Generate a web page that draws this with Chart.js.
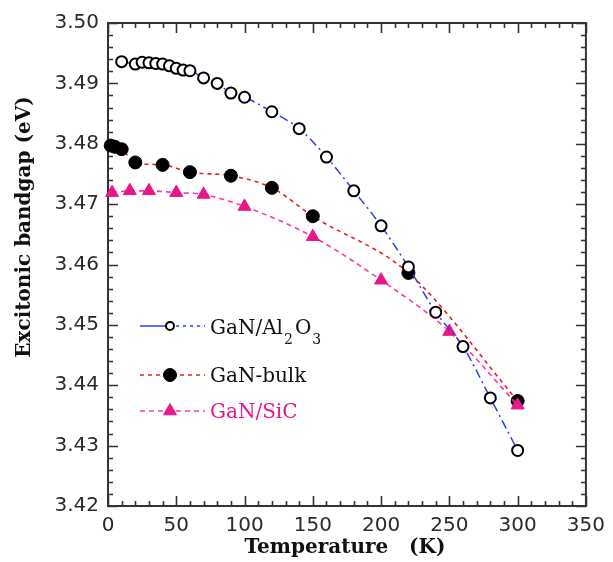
<!DOCTYPE html>
<html>
<head>
<meta charset="utf-8">
<script src="https://cdn.jsdelivr.net/npm/chart.js@4/dist/chart.umd.min.js"></script>
<style>
  html, body { margin: 0; padding: 0; background: #fff; }
  #wrap { width: 613px; height: 562px; }
</style>
</head>
<body>
<div id="wrap"><canvas id="c" width="613" height="562"></canvas></div>
<script>
// Excitonic band gap of GaN vs. temperature for three kinds of sample
const tempSapphire = [10, 20, 25, 30, 35, 40, 45, 50, 55, 60, 70, 80, 90, 100, 120, 140, 160, 180, 200, 220, 240, 260, 280, 300];
const gapSapphire  = [3.4936, 3.4932, 3.4935, 3.4934, 3.4933, 3.4932, 3.4929, 3.4925, 3.4922, 3.4921, 3.4909, 3.4900, 3.4884, 3.4877, 3.4853, 3.4825, 3.4778, 3.4722, 3.4664, 3.4596, 3.4521, 3.4464, 3.4379, 3.4292];

const tempBulk = [2, 5, 10, 20, 40, 60, 90, 120, 150, 220, 300];
const gapBulk  = [3.4797, 3.4795, 3.4791, 3.4769, 3.4765, 3.4753, 3.4747, 3.4727, 3.4680, 3.4586, 3.4374];

const tempSiC = [3, 16, 30, 50, 70, 100, 150, 200, 250, 300];
const gapSiC  = [3.4719, 3.4722, 3.4722, 3.4719, 3.4716, 3.4696, 3.4646, 3.4574, 3.4489, 3.4367];

const xTickValues = [0, 50, 100, 150, 200, 250, 300, 350];
const yTickValues = [3.42, 3.43, 3.44, 3.45, 3.46, 3.47, 3.48, 3.49, 3.50];

const xTitle = 'Temperature   (K)';
const yTitle = 'Excitonic bandgap (eV)';

const BLUE = '#2a3cf0';
const RED = '#f01a1a';
const PINK = '#ff3aa8';
const MAGENTA = '#e8168a';
const AXIS = '#333333';

const toPoints = (xs, ys) => xs.map((x, i) => ({ x: x, y: ys[i] }));

// Frame with inward major/minor ticks on all four sides
const framePlugin = {
  id: 'frame',
  beforeDatasetsDraw(chart) {
    const { ctx, chartArea: a, scales } = chart;
    const xs = scales.x, ys = scales.y;
    ctx.save();
    ctx.strokeStyle = AXIS;
    ctx.lineWidth = 2;
    ctx.strokeRect(a.left, a.top, a.right - a.left, a.bottom - a.top);
    ctx.lineWidth = 1.6;
    ctx.beginPath();
    for (let v = 0; v <= 350; v += 10) {
      const px = Math.round(xs.getPixelForValue(v)) + 0.5;
      const len = (v % 50 === 0) ? 10 : 5;
      ctx.moveTo(px, a.bottom); ctx.lineTo(px, a.bottom - len);
      ctx.moveTo(px, a.top); ctx.lineTo(px, a.top + len);
    }
    for (let k = 0; k <= 40; k++) {
      const v = 3.42 + k * 0.002;
      const py = Math.round(ys.getPixelForValue(v)) + 0.5;
      const len = (k % 5 === 0) ? 10 : 5;
      ctx.moveTo(a.left, py); ctx.lineTo(a.left + len, py);
      ctx.moveTo(a.right, py); ctx.lineTo(a.right - len, py);
    }
    ctx.stroke();
    ctx.restore();
  }
};

// Axis titles and the in-plot legend
const labelPlugin = {
  id: 'labels',
  afterDraw(chart) {
    const { ctx, chartArea: a } = chart;
    ctx.save();
    ctx.fillStyle = '#111';
    ctx.font = 'bold 20px "DejaVu Serif"';
    ctx.textAlign = 'center';
    ctx.textBaseline = 'alphabetic';
    ctx.fillText(xTitle, (a.left + a.right) / 2 - 2, 553);
    ctx.save();
    ctx.translate(25, 227);
    ctx.rotate(-Math.PI / 2);
    ctx.textBaseline = 'middle';
    ctx.fillText(yTitle, 0, 0);
    ctx.restore();

    // legend
    const x0 = 140, xm = 170, x1 = 205, tx = 210;
    const rows = [
      { y: 326, ds: 0 },
      { y: 375, ds: 1 },
      { y: 411, ds: 2 }
    ];
    ctx.textAlign = 'left';
    ctx.textBaseline = 'alphabetic';
    rows.forEach(r => {
      const d = chart.data.datasets[r.ds];
      ctx.save();
      ctx.strokeStyle = d.borderColor;
      ctx.lineWidth = d.borderWidth;
      if (r.ds === 0) {
        ctx.setLineDash([]);
        ctx.beginPath(); ctx.moveTo(x0, r.y); ctx.lineTo(xm - 4, r.y); ctx.stroke();
        ctx.setLineDash([3, 4]);
        ctx.beginPath(); ctx.moveTo(xm + 6, r.y); ctx.lineTo(x1, r.y); ctx.stroke();
      } else {
        ctx.setLineDash(d.borderDash);
        ctx.beginPath(); ctx.moveTo(x0, r.y); ctx.lineTo(x1, r.y); ctx.stroke();
      }
      ctx.restore();
      const legendRadius = r.ds === 0 ? 4 : d.pointRadius;
      ctx.fillStyle = d.pointBackgroundColor;
      ctx.strokeStyle = d.pointBorderColor;
      ctx.lineWidth = d.pointBorderWidth;
      ctx.beginPath();
      if (d.pointStyle === 'circle') {
        ctx.arc(xm, r.y, legendRadius, 0, Math.PI * 2);
      } else {
        const rr = legendRadius;
        ctx.moveTo(xm, r.y - rr);
        ctx.lineTo(xm + rr * 0.866, r.y + rr * 0.5);
        ctx.lineTo(xm - rr * 0.866, r.y + rr * 0.5);
        ctx.closePath();
      }
      ctx.fill(); ctx.stroke();
    });

    const base1 = rows[0].y + 8;
    ctx.fillStyle = '#111';
    let cx = tx;
    const parts = [['GaN/Al', 0], ['2', 1], ['O', 0], ['3', 1]];
    parts.forEach(([t, sub]) => {
      ctx.font = sub ? '14px "DejaVu Serif"' : '20px "DejaVu Serif"';
      ctx.fillText(t, cx, sub ? base1 + 10 : base1);
      cx += ctx.measureText(t).width + (sub ? 2 : 1);
    });
    ctx.font = '20px "DejaVu Serif"';
    ctx.fillStyle = '#111';
    ctx.fillText('GaN-bulk', tx, rows[1].y + 7);
    ctx.fillStyle = MAGENTA;
    ctx.fillText('GaN/SiC', tx, rows[2].y + 7);
    ctx.restore();
  }
};

const lineOpts = {
  showLine: true,
  fill: false,
  cubicInterpolationMode: 'monotone',
  clip: false
};

new Chart(document.getElementById('c'), {
  type: 'scatter',
  data: {
    datasets: [
      Object.assign({}, lineOpts, {
        label: 'GaN/Al2O3',
        order: 0,
        data: toPoints(tempSapphire, gapSapphire),
        borderColor: BLUE,
        borderWidth: 1.5,
        borderDash: [9, 4, 2, 4],
        pointStyle: 'circle',
        pointRadius: 5.5,
        pointBackgroundColor: '#ffffff',
        pointBorderColor: '#000000',
        pointBorderWidth: 2
      }),
      Object.assign({}, lineOpts, {
        label: 'GaN-bulk',
        order: 2,
        data: toPoints(tempBulk, gapBulk),
        borderColor: RED,
        borderWidth: 1.6,
        borderDash: [4, 4],
        pointStyle: 'circle',
        pointRadius: 6.5,
        pointBackgroundColor: '#000000',
        pointBorderColor: '#000000',
        pointBorderWidth: 1
      }),
      Object.assign({}, lineOpts, {
        label: 'GaN/SiC',
        order: 1,
        data: toPoints(tempSiC, gapSiC),
        borderColor: PINK,
        borderWidth: 1.6,
        borderDash: [5, 4],
        pointStyle: 'triangle',
        pointRadius: 7.5,
        pointBackgroundColor: MAGENTA,
        pointBorderColor: MAGENTA,
        pointBorderWidth: 1
      })
    ]
  },
  options: {
    responsive: false,
    devicePixelRatio: 1,
    animation: false,
    layout: { padding: { top: 23, right: 23, left: 0, bottom: 0 } },
    plugins: { legend: { display: false }, tooltip: { enabled: false } },
    scales: {
      x: {
        type: 'linear',
        min: 0, max: 350,
        afterBuildTicks: s => { s.ticks = xTickValues.map(v => ({ value: v })); },
        afterFit: s => { s.height = 56; },
        grid: { display: false, drawTicks: false },
        border: { display: false },
        ticks: {
          padding: 8,
          color: '#2a2a2a',
          font: { family: '"DejaVu Sans"', size: 20 },
          maxRotation: 0,
          callback: v => String(v)
        }
      },
      y: {
        type: 'linear',
        min: 3.42, max: 3.50,
        afterBuildTicks: s => { s.ticks = yTickValues.map(v => ({ value: v })); },
        afterFit: s => { s.width = 108; },
        grid: { display: false, drawTicks: false },
        border: { display: false },
        ticks: {
          padding: 9,
          color: '#2a2a2a',
          font: { family: '"DejaVu Sans"', size: 20 },
          callback: v => Number(v).toFixed(2)
        }
      }
    }
  },
  plugins: [framePlugin, labelPlugin]
});
</script>
</body>
</html>
